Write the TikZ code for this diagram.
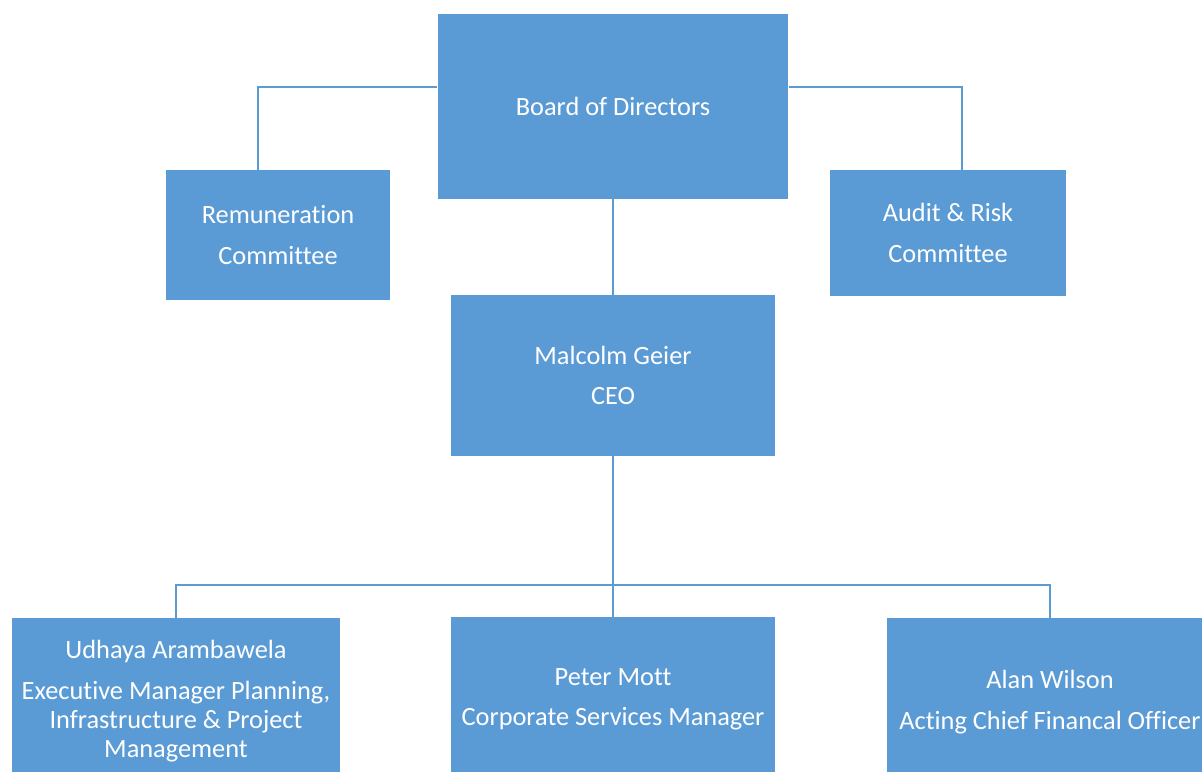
\documentclass[tikz,border=0pt]{standalone}
\usepackage{fontspec}
\setmainfont{Carlito}[Ligatures=NoCommon]
\definecolor{boxblue}{HTML}{5B9BD5}
\tikzset{
  unit/.style={rectangle, fill=boxblue, text=white, inner sep=0pt, align=center,
    font=\fontsize{15}{16.5}\selectfont},
  link/.style={draw=boxblue, line width=1pt}
}
\begin{document}
\begin{tikzpicture}[x=0.02cm, y=-0.02cm]
\clip (0,0) rectangle (1202,771);

% board and its committees
\node[unit, minimum width=7.02cm, minimum height=3.7cm] (board) at (613,106.5) {Board of Directors};
\node[unit, minimum width=4.48cm, minimum height=2.6cm] (rem) at (278,235) {Remuneration\\[6.4pt]Committee};
\node[unit, minimum width=4.72cm, minimum height=2.52cm] (audit) at (948,233) {Audit \& Risk\\[6.4pt]Committee};

% chief executive
\node[unit, minimum width=6.5cm, minimum height=3.22cm] (ceo) at (613,375.5) {Malcolm Geier\\[6.4pt]CEO};

% managers (boxes run off the bottom edge)
\node[unit, minimum width=6.56cm, minimum height=3.32cm] (udhaya) at (176,701)
  {Udhaya Arambawela\\[6.4pt]Executive Manager Planning,\\Infrastructure \& Project\\Management};
\node[unit, minimum width=6.5cm, minimum height=3.28cm] (peter) at (613,699)
  {Peter Mott\\[6.4pt]Corporate Services Manager};
\node[unit, minimum width=6.52cm, minimum height=3.36cm] (alan) at (1050,702)
  {Alan Wilson\\[6.4pt]Acting Chief Financal Officer};

\draw[link] ([yshift=0.39cm]board.west) -| ([xshift=-0.4cm]rem.north);
\draw[link] ([yshift=0.39cm]board.east) -| ([xshift=0.28cm]audit.north);
\draw[link] (board.south) -- (ceo.north);

\coordinate (bus) at (613,585);
\draw[link] (ceo.south) -- (bus);
\draw[link] (udhaya.north) |- (bus) -| (alan.north);
\draw[link] (bus) -- (peter.north);
\end{tikzpicture}
\end{document}
